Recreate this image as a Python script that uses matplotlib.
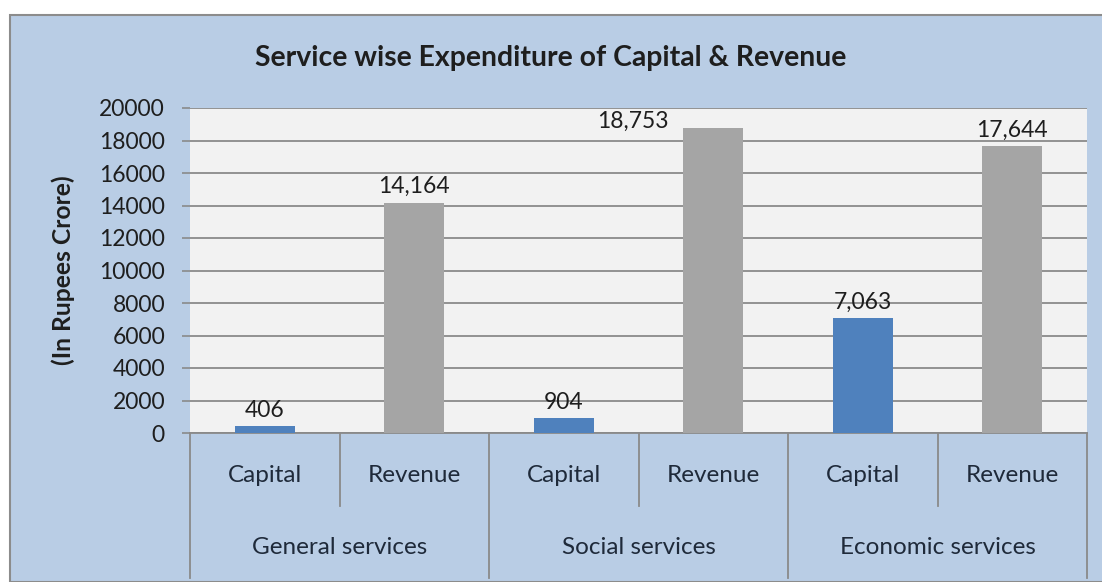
import matplotlib
matplotlib.use("Agg")
import matplotlib.pyplot as plt
from matplotlib.patches import Rectangle

# Data
groups = ["General services", "Social services", "Economic services"]
kinds = ["Capital", "Revenue"]
values = [406, 14164, 904, 18753, 7063, 17644]
value_labels = ["406", "14,164", "904", "18,753", "7,063", "17,644"]
yticks = list(range(0, 20001, 2000))

cap_color = "#4F81BD"
rev_color = "#A5A5A5"
bg_color = "#B9CDE5"
plot_bg = "#F2F2F2"
grid_color = "#8A8A8A"
text_color = "#1E1E1E"
cat_color = "#1F2A3A"

plt.rcParams["font.family"] = ["Lato", "DejaVu Sans"]

W, H = 1102, 582
fig = plt.figure(figsize=(W / 100, H / 100), dpi=100)
fig.patch.set_facecolor("white")

# Chart area background with border
fig.patches.append(Rectangle((10 / W, 0), 1.2, 1 - 15 / H, transform=fig.transFigure,
                             facecolor=bg_color, edgecolor="#8C8C8C", linewidth=1.5,
                             zorder=-10))

left, right, top, bottom = 190, 1087, 108, 433
ax = fig.add_axes([left / W, 1 - bottom / H, (right - left) / W, (bottom - top) / H])
ax.set_zorder(1)
ax.set_facecolor(plot_bg)

n = len(values)
xs = list(range(n))
colors = [cap_color if i % 2 == 0 else rev_color for i in range(n)]
ax.bar(xs, values, width=0.4, color=colors, zorder=3)

ax.set_xlim(-0.5, n - 0.5)
ax.set_ylim(0, 20000)
ax.set_yticks(yticks)
ax.set_yticklabels([str(t) for t in yticks], fontsize=16.5, color=text_color)
ax.tick_params(axis="y", length=6, width=1.2, color=grid_color, pad=12)
ax.set_xticks([])
ax.grid(axis="y", color=grid_color, linewidth=1.3, zorder=1)
for s in ["top", "right", "left"]:
    ax.spines[s].set_visible(False)
ax.spines["bottom"].set_color(grid_color)
ax.spines["bottom"].set_linewidth(1.3)

# Value labels above each bar; the tallest one sits beside its bar
for i, (v, lab) in enumerate(zip(values, value_labels)):
    if v > 18500:
        ax.annotate(lab, (i - 0.54, v), ha="center", va="baseline", fontsize=16.5,
                    color=text_color, zorder=4)
    else:
        ax.annotate(lab, (i, v), xytext=(0, 7), textcoords="offset points",
                    ha="center", va="baseline", fontsize=16.5, color=text_color,
                    zorder=4)

# Two-level category axis
tr = ax.get_xaxis_transform()
plot_h = bottom - top
inner_depth = -(506 - bottom) / plot_h
outer_depth = -(578 - bottom) / plot_h
for g in range(len(groups) + 1):
    xb = g * 2 - 0.5
    ax.plot([xb, xb], [0, outer_depth], transform=tr, color=grid_color,
            linewidth=1.3, clip_on=False)
for g in range(len(groups)):
    xb = g * 2 + 0.5
    ax.plot([xb, xb], [0, inner_depth], transform=tr, color=grid_color,
            linewidth=1.3, clip_on=False)
for i in range(n):
    ax.text(i, -(475 - bottom) / plot_h, kinds[i % 2], transform=tr, ha="center",
            va="center", fontsize=17.5, color=cat_color)
for g, name in enumerate(groups):
    ax.text(g * 2 + 0.5, -(548 - bottom) / plot_h, name, transform=tr, ha="center",
            va="center", fontsize=17.5, color=cat_color)

fig.text(551 / W, 1 - 58 / H, "Service wise Expenditure of Capital & Revenue",
         ha="center", va="center", fontsize=20.4, fontweight="bold", color=text_color)
fig.text(63 / W, 1 - 270 / H, "(In Rupees Crore)", rotation=90, ha="center",
         va="center", fontsize=17.7, fontweight="bold", color=text_color)

fig.savefig("out.png", dpi=100)
